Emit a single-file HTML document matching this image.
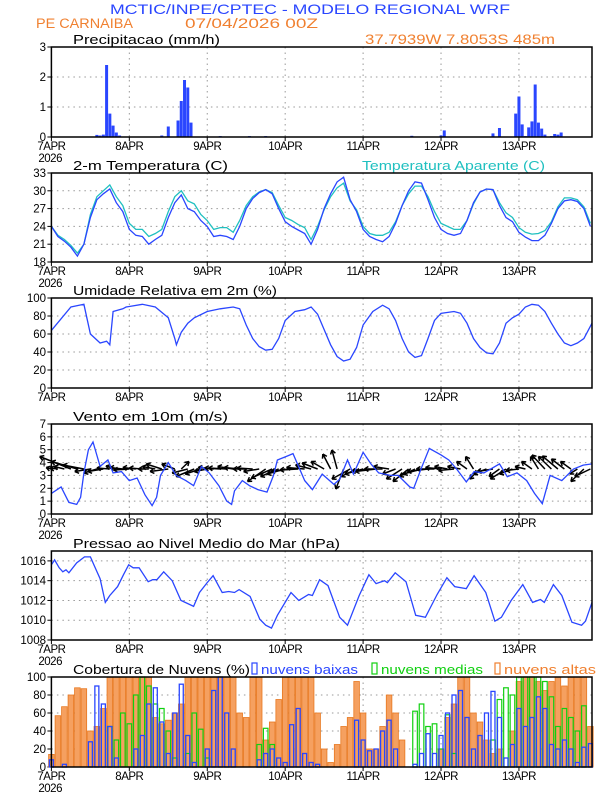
<!DOCTYPE html>
<html><head><meta charset="utf-8"><style>
html,body{margin:0;padding:0;background:#fff}
svg{display:block}
text{font-family:"Liberation Sans",sans-serif}
</style></head><body>
<svg id="c" width="612" height="792" viewBox="0 0 612 792" xmlns="http://www.w3.org/2000/svg">
<text x="110" y="14" font-size="14" fill="#2a46ff" textLength="400" lengthAdjust="spacingAndGlyphs">MCTIC/INPE/CPTEC - MODELO REGIONAL WRF</text>
<text x="36" y="28" font-size="13.5" fill="#f08030" textLength="97" lengthAdjust="spacingAndGlyphs">PE CARNAIBA</text>
<text x="185" y="28" font-size="13.5" fill="#f08030" textLength="133" lengthAdjust="spacingAndGlyphs">07/04/2026 00Z</text>
<text x="365" y="44" font-size="13.5" fill="#f08030" textLength="190" lengthAdjust="spacingAndGlyphs">37.7939W 7.8053S 485m</text>
</svg>
<script>
const days=['7APR','8APR','9APR','10APR','11APR','12APR','13APR'];
// precipitation (sparse hourly)
const precHours=[14,15,16,17,18,19,20,21,34,36,39,40,41,42,43,52,61,66,111,120,121,136,138,143,144,145,146,147,148,149,150,151,152,154,155,156,157];
const precVals=[0.07,0.05,0.08,2.4,0.78,0.38,0.15,0.05,0.05,0.35,0.55,1.2,1.9,1.65,0.48,0.03,0.03,0.03,0.04,0.05,0.22,0.12,0.3,0.78,1.35,0.42,0.03,0.32,0.52,1.75,0.48,0.28,0.08,0.03,0.1,0.08,0.15];
// temperature, 2-hourly
const tempT=[24,22.3,21.5,20.5,19,21,25.5,28.5,29.5,30.3,28,26.5,23.5,22.5,22.3,21,21.8,22.5,25.5,28,29.3,27,26.5,25,24,22.3,22.5,22.3,21.8,24,27,28.7,29.7,30.2,29.5,27,24.8,24,23.4,22.8,21,23.5,27,29.5,31.5,32.3,28.5,26.5,23.5,22.3,21.8,21.4,22.3,24.5,27.5,30,31.5,31.3,28.5,25.5,23.5,22.8,22.5,22.8,25,28,29.8,30.3,30.2,27.5,25.5,24.8,23,22.2,21.6,21.6,22.5,24.5,27,28.3,28.5,28.2,27,24];
const tempApp=[24,22.5,21.8,20.8,19.5,21,26,29,30,31,29,27.5,24.5,23.5,23.5,22.3,22.8,23.5,26.5,29,30,28.3,27.8,26,25,23.5,23.8,23.8,23,25,27.5,29,29.8,30.2,29.7,27.5,25.5,25,24.3,23.8,21.8,24,26.8,29,30.5,31.3,28.3,26.8,24,22.8,22.5,22.5,23,24.8,27.5,29.5,30.8,30.8,29,26.5,24.5,24,23.5,23.5,25,27.8,29.8,30.3,30.2,28,26.3,25.5,23.8,23,22.7,22.8,23.3,24.8,27.3,28.8,28.8,28.5,27.3,24.5];
// humidity
const rhHours=[0,6,10,12,15,17,18,19,22,23,28,32,36,38,38.5,40,42,44,48,52,56,58,60,62,64,66,68,70,72,75,78,80,82,84,86,88,90,92,94,96,99,102,104,106,108,110,112,114,116,118,120,124,126,128,130,132,134,136,138,140,142,144,146,148,150,152,154,156,158,160,162,164,166.5];
const rhVals=[64,90,93,60,50,52,48,85,88,90,93,90,78,55,48,62,72,78,85,88,90,88,70,55,46,42,43,55,75,85,87,90,82,65,48,35,30,32,45,70,85,92,88,75,55,40,34,36,55,75,83,85,83,72,55,45,39,38,50,72,78,82,90,93,92,85,72,60,50,47,50,55,72];
// wind speed
const wsHours=[0,3,5.4,7.8,9,10,11.4,12.8,15,17.4,19,21.6,24,26.4,28.8,31,32.4,33.6,36,38.4,41.4,43.8,46.2,48.6,51.6,54,55.5,56.4,58.8,61,63.6,66.4,68.4,69.6,72.6,74.4,78,80.4,83.4,87,88.8,91.2,93,96,98.4,100.8,104.4,106.8,110.4,111.6,114,116.4,120,122.4,124.8,127.8,130.2,133.2,138,140.4,143.4,146.4,148.8,151.2,153.6,157.2,160.8,163.8,166.5];
const wsVals=[1.6,2.1,0.9,0.75,1.3,3.2,5,5.6,3.7,4.2,3.2,3.3,2.6,2.8,1.5,0.65,1.3,3,4,3,2.6,2.2,3.7,3.2,2.2,1,0.75,1.8,2.6,2.2,1.9,1.7,3,4.2,4.5,4.7,2.6,1.9,3.1,2.3,2.7,4.2,3.1,4.8,3.9,3.2,3,3,2.1,2,3.6,5.1,4.6,4.2,3.5,2.5,3.3,3.2,3.9,2.9,3.2,2.6,1.6,0.8,3,2.6,3.5,3.8,3.9];
// wind vectors (m/s components), 2-hourly
const windU=[-2,-3,-4,-12,-10,-8,-6,-5,-6,-5,-4,-5,-6,-5,-5,-4,-5,-6,-7,-5,3,-6,-7,-6,-5,-6,-6,-7,-6,-6,-5,-6,-6,-7,-8,-7,-7,-8,-7,-7,-6,-6,-5,-3,-2,-3,-7,-6,-7,-7,-8,-7,-6,-5,-6,-6,-6,-7,-8,-7,-6,-5,-6,-5,-4,-3,-4,-5,-6,-4,-6,-5,-5,-4,-4,-3,-5,-5,-6,-5,-4,-3,-5,-6];
const windV=[0.3,0.2,0.5,2.5,1.5,0.8,-0.5,-0.8,-0.5,0.2,0.6,0.3,-0.2,0.3,0.2,0,0.5,1,-0.5,1,1.5,-0.8,-1.5,-1,-0.5,0.3,0.2,0.2,0.5,0.3,0,0.2,-0.5,-2.5,-1.8,-1.5,-1,-0.5,-0.2,0.3,0.8,1.2,1.5,3,3.8,-4,-2,-1.5,-1,-0.5,-0.5,0,0.5,-1,-2,-2.5,-1.5,-1,-0.5,0,0.3,0.5,-0.3,0.5,1.5,2.5,-2,-1,-0.5,-1.5,-2,-1,-0.3,0.5,1.5,2.5,2.8,2.5,2.6,2,1.5,-1,-2.5,-1.5];
// pressure
const pHours=[0,1,2.4,3.5,4.5,5.4,7.8,10.2,12,13.2,15,16.6,18,20.4,22.2,23.8,25.2,27,29.8,31.2,32.5,34.6,37.2,39.9,43.8,45.6,48,49.8,52.6,54.6,56.4,57.8,61.2,64.2,66,67.8,69.6,73.8,76.2,79.2,80.4,82.6,85.2,88.8,91.2,94.8,97.8,100,102.6,103.5,105.9,109.2,112.2,115.2,118.8,121.8,124.2,127.8,130.2,133.8,136.6,138.6,141.6,145.2,148.2,150.6,151.8,154.6,157.2,160.3,163.3,164.5,166.5];
const pVals=[1015.6,1016.1,1015.3,1014.9,1015.1,1014.8,1015.8,1016.4,1016.4,1015.5,1014.2,1011.8,1012.5,1013.4,1014.6,1015.6,1015.3,1015.3,1013.9,1014.1,1014.1,1014.9,1014,1012,1011.4,1012.8,1013.8,1014.5,1012.8,1012.9,1012.8,1013.1,1012.4,1010.1,1009.5,1009.2,1010.5,1012.8,1012,1012.6,1012.5,1014.1,1013.5,1010.3,1009.5,1012.5,1014.6,1013.7,1014,1013.8,1014.8,1013.9,1010.5,1010.3,1012.6,1014.3,1013.4,1013.2,1014.5,1012.8,1009.9,1010.3,1012,1013.6,1011.8,1012.1,1011.8,1013.6,1012.5,1009.8,1009.5,1009.9,1011.8];
// clouds, 2-hourly
const cloudHigh=[14,57,67,80,88,87,40,45,65,100,100,100,100,100,100,100,55,48,52,60,70,100,100,100,100,100,100,100,100,60,55,100,100,30,50,75,100,100,100,100,100,60,20,5,25,45,55,95,60,20,20,45,80,60,30,0,0,0,0,0,20,55,70,100,100,60,50,30,15,20,0,40,95,100,100,95,85,95,100,90,100,100,100,45];
const cloudMid=[0,0,0,0,0,0,0,0,0,45,30,60,48,80,100,90,70,65,40,10,0,15,60,42,10,0,0,0,0,0,0,0,25,43,25,0,0,0,0,0,0,0,0,0,0,0,0,0,0,0,0,0,0,0,0,0,62,70,45,48,20,58,15,0,0,0,0,0,30,75,88,80,100,100,100,100,95,78,45,65,55,40,68,0];
const cloudLow=[8,0,3,0,0,0,28,90,70,45,10,0,0,20,35,70,88,50,15,60,92,35,5,0,20,85,100,60,20,0,0,0,8,15,20,10,5,47,65,15,5,3,0,0,0,0,0,52,30,18,20,40,52,20,0,0,3,15,37,15,35,60,80,85,55,20,35,60,84,55,10,25,65,45,55,78,65,25,20,30,20,5,22,26];

const NS='http://www.w3.org/2000/svg';
const svg=document.getElementById('c');
const X0=51.4,X1=592,HMAX=166.5;
const xOf=h=>X0+(X1-X0)*h/HMAX;
function el(tag,attrs,parent){const e=document.createElementNS(NS,tag);for(const k in attrs)e.setAttribute(k,attrs[k]);(parent||svg).appendChild(e);return e;}
function txt(s,attrs){const t=el('text',attrs);t.textContent=s;return t;}
const BLUE='#2a46ff';

function panel(name,top,bot,ymin,ymax,ticks,title,titleW,firstYear){
  const g=el('g',{});
  
  
  const yOf=v=>bot-(bot-top)*(v-ymin)/(ymax-ymin);
  for(const t of ticks){
    const y=yOf(t);
    const gl=el('line',{x1:X0,x2:X1,y1:y,y2:y,stroke:'#999','stroke-width':1,'stroke-dasharray':'1.5,4'},g);
    
    
    const tl=txt(String(t),{x:46,y:y+4,'text-anchor':'end','font-size':11.5,fill:'#000'});
    
    
    el('line',{x1:X0-4,x2:X0,y1:y,y2:y,stroke:'#000'},g);
  }
  days.forEach((d,i)=>{
    const x=xOf(i*24);
    if(i>0){const vl=el('line',{x1:x,x2:x,y1:top,y2:bot,stroke:'#999','stroke-width':1,'stroke-dasharray':'1.5,4'},g);
      
      }
    el('line',{x1:x,x2:x,y1:bot,y2:bot+4,stroke:'#000'},g);
    const dl=txt(d,{x:x,y:bot+13,'text-anchor':'middle','font-size':11.5,fill:'#000','letter-spacing':'-0.5'});
    
    
  });
  if(firstYear){const yl=txt('2026',{x:X0-13,y:bot+25,'font-size':11.5,fill:'#000','letter-spacing':'-0.5'});
    
    }
  const tt=txt(title,{x:73,y:top-3,'font-size':13,fill:'#000',textLength:titleW,lengthAdjust:'spacingAndGlyphs'});
  
  
  return {g,yOf,top,bot,frame:()=>{const f=el('rect',{x:X0,y:top,width:X1-X0,height:bot-top,fill:'none',stroke:'#000','stroke-width':1.5});
    
    }};
}
function line(p,hs,vs,color,name){
  const d=hs.map((h,i)=>(i?'L':'M')+xOf(h).toFixed(1)+','+p.yOf(vs[i]).toFixed(1)).join('');
  const l=el('path',{d:d,fill:'none',stroke:color,'stroke-width':1.3});
  
  
}
const two=a=>a.map((_,i)=>i*2);

// Precip
const p1=panel('precip',47,137,0,3,[0,1,2,3],'Precipitacao (mm/h)',147,true);
precHours.forEach((h,i)=>{
  const y=p1.yOf(precVals[i]);
  const b=el('rect',{x:xOf(h)-1.5,y:y,width:3,height:p1.bot-y,fill:BLUE});
  
  
});
p1.frame();

// Temperature
const p2=panel('temp',173,262,18,33,[18,21,24,27,30,33],'2-m Temperatura (C)',155,true);
line(p2,two(tempApp),tempApp,'#20c0c0','apparent-temp-line');
line(p2,two(tempT),tempT,BLUE,'temp-line');
const lg=txt('Temperatura Aparente (C)',{x:362,y:170,'font-size':13,fill:'#20c0c0',textLength:183,lengthAdjust:'spacingAndGlyphs'});


p2.frame();

// RH
const p3=panel('humidity',298,388,0,100,[0,20,40,60,80,100],'Umidade Relativa em 2m (%)',204,false);
line(p3,rhHours,rhVals,BLUE,'humidity-line');
p3.frame();

// Wind
const p4=panel('wind',424,514,0,7,[0,1,2,3,4,5,6,7],'Vento em 10m (m/s)',155,true);
windU.forEach((u,i)=>{
  const x=xOf(i*2),y=p4.yOf(3.5);
  const dx=u*2.6,dy=-windV[i]*5;
  const L=Math.hypot(dx,dy)||1,ux=dx/L,uy=dy/L;
  const a=el('path',{d:`M${x},${y}L${x+dx},${y+dy}M${x+dx},${y+dy}L${x+dx-ux*4-uy*2.5},${y+dy-uy*4+ux*2.5}M${x+dx},${y+dy}L${x+dx-ux*4+uy*2.5},${y+dy-uy*4-ux*2.5}`,stroke:'#000','stroke-width':1.5,fill:'none'});
  
  
});
line(p4,wsHours,wsVals,BLUE,'wind-speed-line');
p4.frame();

// Pressure
const p5=panel('pressure',551,640,1008,1017,[1008,1010,1012,1014,1016],'Pressao ao Nivel Medio do Mar (hPa)',267,true);
line(p5,pHours,pVals,BLUE,'pressure-line');
p5.frame();

// Clouds
const p6=panel('clouds',677,767,0,100,[0,20,40,60,80,100],'Cobertura de Nuvens (%)',177,true);
const bw=5.6;
cloudHigh.forEach((v,i)=>{
  if(!v)return;const y=p6.yOf(v);
  const b=el('rect',{x:xOf(i*2)-bw/2,y:y,width:bw,height:p6.bot-y,fill:'#f5a060',stroke:'#e87820','stroke-width':0.8});
  
  
});
cloudMid.forEach((v,i)=>{
  if(!v)return;const y=p6.yOf(v);
  const b=el('rect',{x:xOf(i*2)-bw/2+0.5,y:y,width:bw-1,height:p6.bot-y,fill:'none',stroke:'#10d010','stroke-width':1.2});
  
  
});
cloudLow.forEach((v,i)=>{
  const y=p6.yOf(v);
  const b=el('rect',{x:xOf(i*2)-bw/2+0.8,y:y,width:bw-1.6,height:Math.max(0,p6.bot-y),fill:'none',stroke:BLUE,'stroke-width':1.3});
  
  
});
p6.frame();
[['nuvens baixas',BLUE,252,97,'legend-low-clouds'],['nuvens medias','#10d010',372,102,'legend-mid-clouds'],['nuvens altas','#f08030',495,92,'legend-high-clouds']].forEach(([s,c,x,w,n])=>{
  const r=el('rect',{x:x,y:663,width:5,height:11,fill:'none',stroke:c,'stroke-width':1.2});
  
  
  const t=txt(s,{x:x+9,y:674,'font-size':13,fill:c,textLength:w,lengthAdjust:'spacingAndGlyphs'});
  
  
});
</script>
</body></html>
